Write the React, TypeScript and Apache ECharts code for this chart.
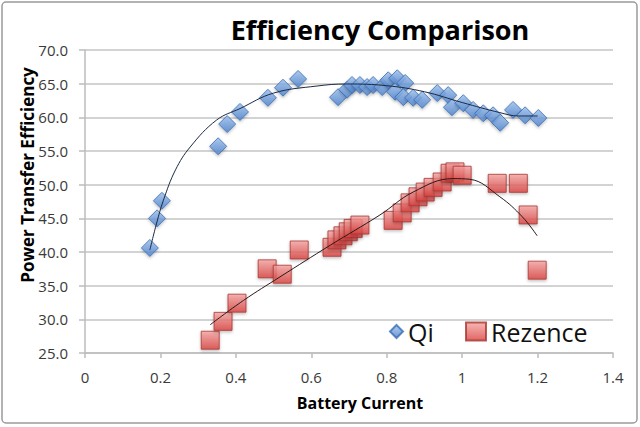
import React, { useEffect, useRef } from "react";
import * as echarts from "echarts";

const qiCurrent = [0.172, 0.191, 0.204, 0.353, 0.377, 0.411, 0.485, 0.525, 0.565, 0.671, 0.695, 0.708, 0.729, 0.748, 0.764, 0.788, 0.804, 0.828, 0.849, 0.822, 0.844, 0.870, 0.894, 0.934, 0.963, 0.973, 1.003, 1.029, 1.056, 1.082, 1.101, 1.135, 1.167, 1.202];
const qiEff = [40.6, 45.0, 47.6, 55.7, 59.0, 60.8, 62.9, 64.4, 65.7, 63.0, 64.1, 64.8, 64.8, 64.5, 64.8, 64.5, 65.5, 65.8, 65.1, 63.8, 63.0, 62.9, 62.6, 63.6, 63.3, 61.5, 62.1, 61.1, 60.6, 60.3, 59.2, 61.1, 60.3, 59.9];

const rezCurrent = [0.332, 0.366, 0.403, 0.483, 0.523, 0.568, 0.655, 0.668, 0.684, 0.698, 0.711, 0.729, 0.817, 0.841, 0.862, 0.883, 0.902, 0.923, 0.947, 0.968, 0.981, 1.0, 1.093, 1.149, 1.175, 1.199];
const rezEff = [26.9, 29.7, 32.4, 37.5, 36.7, 40.3, 40.7, 41.8, 42.4, 43.0, 43.5, 44.0, 44.7, 45.8, 47.3, 48.2, 48.9, 49.6, 50.4, 51.7, 51.9, 51.4, 50.2, 50.2, 45.5, 37.3];

// Trendlines
const qiTrendCurrent = [0.172, 0.19, 0.208, 0.24, 0.279, 0.349, 0.411, 0.5, 0.615, 0.694, 0.8, 0.9, 1.0, 1.1, 1.15, 1.2];
const qiTrendEff = [40.3, 44.3, 47.7, 52.2, 55.6, 59.6, 61.3, 63.6, 64.65, 64.95, 64.7, 63.8, 62.2, 60.7, 60.2, 60.2];
const rezTrendCurrent = [0.332, 0.42, 0.517, 0.65, 0.782, 0.87, 0.976, 1.02, 1.1, 1.16, 1.199];
const rezTrendEff = [29.2, 32.8, 36.3, 41.0, 45.5, 48.9, 50.9, 50.8, 48.2, 45.2, 42.4];

const seriesNames = ["Qi", "Rezence"];
const xTicks = { min: 0, max: 1.4, interval: 0.2 };
const yTicks = { min: 25, max: 70, interval: 5 };

const FONT = "'Open Sans', 'DejaVu Sans', sans-serif";

export default function App() {
  const ref = useRef<HTMLDivElement>(null);
  useEffect(() => {
    if (!ref.current) return;
    const chart = echarts.init(ref.current, undefined, { renderer: "svg" });
    const qiData = qiCurrent.map((x, i) => [x, qiEff[i]]);
    const rezData = rezCurrent.map((x, i) => [x, rezEff[i]]);
    const qiTrend = qiTrendCurrent.map((x, i) => [x, qiTrendEff[i]]);
    const rezTrend = rezTrendCurrent.map((x, i) => [x, rezTrendEff[i]]);
    const blueFill = new echarts.graphic.LinearGradient(0, 0, 0, 1, [
      { offset: 0, color: "#9cc0ee" },
      { offset: 1, color: "#4a80cc" },
    ]);
    const redFill = new echarts.graphic.LinearGradient(0, 0, 0, 1, [
      { offset: 0, color: "#f6a4a2" },
      { offset: 1, color: "#d8403d" },
    ]);
    chart.setOption({
      animation: false,
      backgroundColor: "#ffffff",
      textStyle: { fontFamily: FONT },
      grid: { left: 85, right: 27, top: 50, bottom: 74 },
      xAxis: {
        type: "value",
        min: xTicks.min,
        max: xTicks.max,
        interval: xTicks.interval,
        axisLine: { show: true, lineStyle: { color: "#bdbdbd", width: 1.5 } },
        axisTick: { show: true, length: 5, lineStyle: { color: "#bdbdbd", width: 1.5 } },
        splitLine: { show: false },
        axisLabel: {
          margin: 16,
          fontSize: 15,
          color: "#3a3a3a",
          fontFamily: FONT,
          formatter: (v: number) => String(Math.round(v * 10) / 10),
        },
      },
      yAxis: {
        type: "value",
        min: yTicks.min,
        max: yTicks.max,
        interval: yTicks.interval,
        axisLine: { show: true, lineStyle: { color: "#bdbdbd", width: 1.5 } },
        axisTick: { show: true, length: 6, lineStyle: { color: "#bdbdbd", width: 1.5 } },
        splitLine: { show: true, lineStyle: { color: "#c4c4c4", width: 1.5 } },
        axisLabel: {
          margin: 17,
          fontSize: 15,
          color: "#3a3a3a",
          fontFamily: FONT,
          formatter: (v: number) => v.toFixed(1),
        },
      },
      legend: [
        {
          data: [{ name: seriesNames[0], icon: "diamond" }],
          left: 389,
          top: 319,
          padding: 0,
          itemWidth: 13,
          itemHeight: 13,
          textStyle: { fontSize: 25, color: "#111", fontFamily: FONT },
        },
        {
          data: [{ name: seriesNames[1], icon: "rect" }],
          left: 465,
          top: 319,
          padding: 0,
          itemWidth: 20,
          itemHeight: 18,
          textStyle: { fontSize: 25, color: "#111", fontFamily: FONT },
        },
      ],
      graphic: [
        {
          type: "rect",
          shape: { x: 2, y: 2, width: 635, height: 421, r: 4 },
          style: { fill: "none", stroke: "#9a9a9a", lineWidth: 1.5 },
          silent: true,
        },
        {
          type: "text",
          x: 380,
          y: 29,
          style: {
            text: "Efficiency Comparison",
            fontSize: 27,
            fontWeight: "bold",
            fontFamily: FONT,
            fill: "#000",
            align: "center",
            verticalAlign: "middle",
            textAlign: "center",
            textVerticalAlign: "middle",
          },
        },
        {
          type: "text",
          x: 27,
          y: 175,
          rotation: Math.PI / 2,
          style: {
            text: "Power Transfer Efficiency",
            fontSize: 17,
            fontWeight: "bold",
            fontFamily: FONT,
            fill: "#000",
            align: "center",
            verticalAlign: "middle",
            textAlign: "center",
            textVerticalAlign: "middle",
          },
        },
        {
          type: "text",
          x: 360,
          y: 403,
          style: {
            text: "Battery Current",
            fontSize: 16,
            fontWeight: "bold",
            fontFamily: FONT,
            fill: "#000",
            align: "center",
            verticalAlign: "middle",
            textAlign: "center",
            textVerticalAlign: "middle",
          },
        },
      ],
      series: [
        {
          name: seriesNames[0],
          type: "scatter",
          symbol: "diamond",
          symbolSize: [17, 17],
          data: qiData,
          z: 3,
          itemStyle: {
            color: blueFill,
            borderColor: "#3a6db3",
            borderWidth: 1,
            shadowBlur: 3,
            shadowOffsetY: 1.5,
            shadowColor: "rgba(0,0,0,0.3)",
          },
        },
        {
          name: seriesNames[1],
          type: "scatter",
          symbol: "rect",
          symbolSize: [18, 18],
          data: rezData,
          z: 3,
          itemStyle: {
            color: redFill,
            borderColor: "#a83431",
            borderWidth: 1,
            shadowBlur: 3,
            shadowOffsetY: 1.5,
            shadowColor: "rgba(0,0,0,0.3)",
          },
        },
        {
          name: "Qi trend",
          type: "line",
          data: qiTrend,
          showSymbol: false,
          smooth: 0.4,
          z: 5,
          lineStyle: { color: "#1c2a44", width: 1 },
          silent: true,
        },
        {
          name: "Rezence trend",
          type: "line",
          data: rezTrend,
          showSymbol: false,
          smooth: 0.4,
          z: 5,
          lineStyle: { color: "#2a1a1a", width: 1 },
          silent: true,
        },
      ],
    });
    return () => chart.dispose();
  }, []);
  return (
    <div
      ref={ref}
      style={{ position: "fixed", left: 0, top: 0, width: 640, height: 427, background: "#fff" }}
    />
  );
}
